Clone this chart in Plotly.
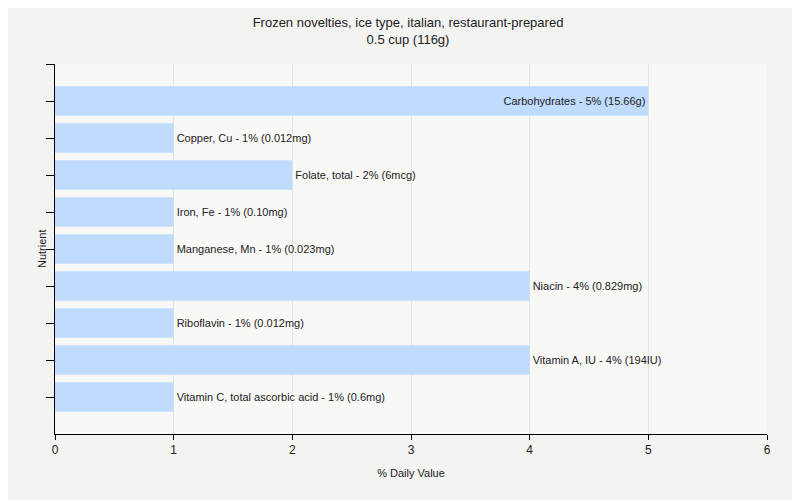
import plotly.graph_objects as go

nutrients = ["Carbohydrates", "Copper, Cu", "Folate, total", "Iron, Fe", "Manganese, Mn",
             "Niacin", "Riboflavin", "Vitamin A, IU", "Vitamin C, total ascorbic acid"]
values = [5, 1, 2, 1, 1, 4, 1, 4, 1]
amounts = ["15.66g", "0.012mg", "6mcg", "0.10mg", "0.023mg", "0.829mg", "0.012mg", "194IU", "0.6mg"]
x_ticks = [0, 1, 2, 3, 4, 5, 6]

labels = [f"{n} - {v}% ({a})" for n, v, a in zip(nutrients, values, amounts)]
ypos = list(range(len(nutrients)))
positions = ["inside" if v == max(values) else "outside" for v in values]

fig = go.Figure(go.Bar(
    x=values, y=ypos, orientation="h",
    text=labels, textposition=positions, insidetextanchor="end",
    textfont=dict(family="Liberation Sans, Arial", size=11, color="#222222"),
    marker=dict(color="#bfdbfe", line=dict(width=0)),
    width=0.8, cliponaxis=False, hoverinfo="skip",
))

fig.update_layout(
    width=800, height=500,
    margin=dict(l=47, r=41, t=56, b=74),
    paper_bgcolor="#f3f3f2", plot_bgcolor="#f8f8f7",
    title=dict(text="Frozen novelties, ice type, italian, restaurant-prepared<br>0.5 cup (116g)",
               x=0.5, xanchor="center", y=0.962, yanchor="top",
               font=dict(family="Liberation Sans, Arial", size=13, color="#222222")),
    showlegend=False,
    annotations=[dict(text="Nutrient", xref="paper", yref="paper", x=0, y=0.5,
                      xshift=-21, textangle=-90, showarrow=False,
                      font=dict(family="Liberation Sans, Arial", size=11, color="#222222"))],
)
fig.update_xaxes(range=[0, 6], tickvals=x_ticks, showgrid=True, gridcolor="#e4e4e4",
                 showline=True, linecolor="black", linewidth=1, ticks="outside",
                 ticklen=5, tickcolor="black", zeroline=False,
                 tickfont=dict(family="Liberation Sans, Arial", size=12, color="#222222"),
                 title=dict(text="% Daily Value", standoff=12,
                            font=dict(family="Liberation Sans, Arial", size=11, color="#222222")))
fig.update_yaxes(range=[len(nutrients), -1], tickvals=list(range(-1, len(nutrients))),
                 ticktext=[""] * (len(nutrients) + 1), showgrid=False,
                 showline=True, linecolor="black", linewidth=1, ticks="outside",
                 ticklen=8, tickcolor="black", zeroline=False)

fig.write_html("out.html")
